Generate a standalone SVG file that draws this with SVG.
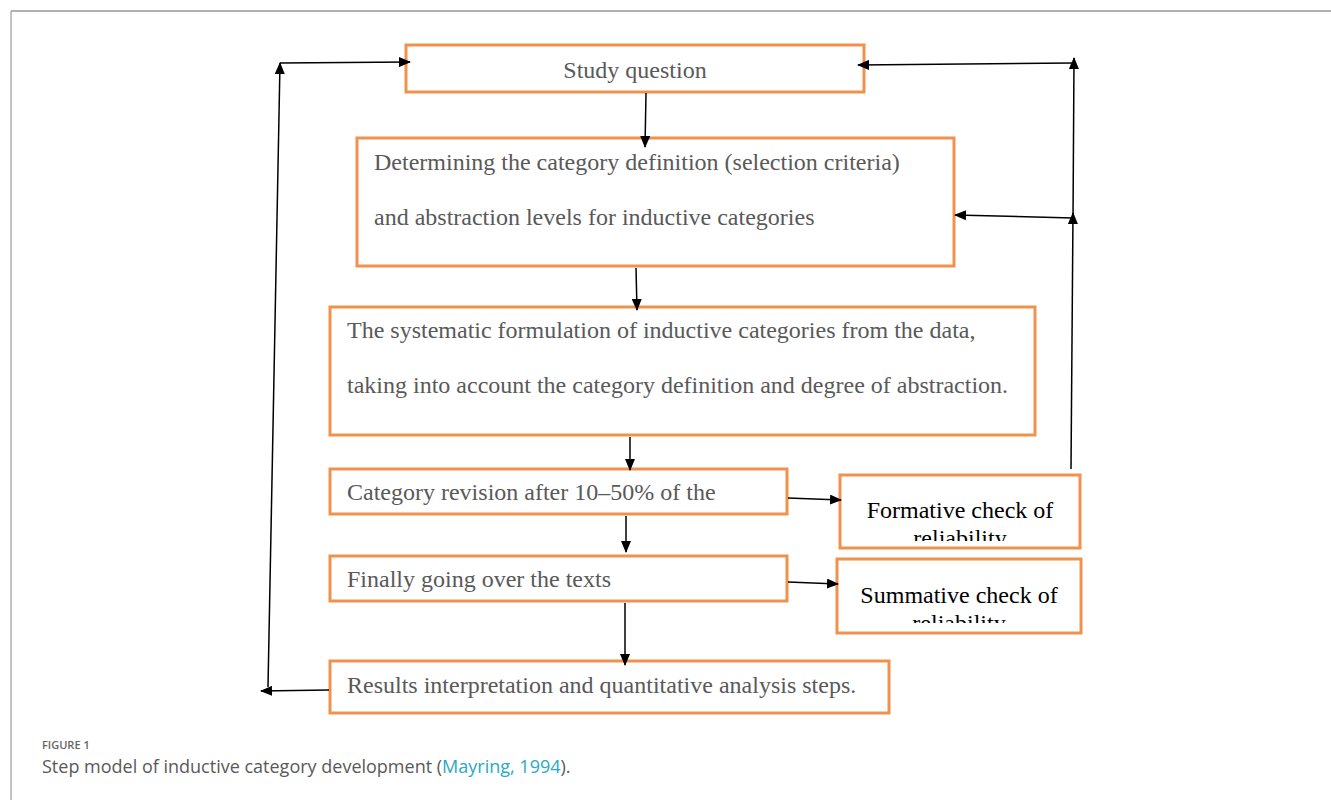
<svg xmlns="http://www.w3.org/2000/svg" width="1331" height="800" viewBox="0 0 1331 800">
<defs>
<style>
.box{fill:#fff;stroke:#F0924C;stroke-width:3}
.t{font-family:"Liberation Serif","Times New Roman",serif;font-size:24px;fill:#595959}
.tb{font-family:"Liberation Serif","Times New Roman",serif;font-size:24px;fill:#000}
.c{stroke:#000;stroke-width:1.5;fill:none;marker-end:url(#ah)}
</style>
<marker id="ah" markerUnits="userSpaceOnUse" markerWidth="12" markerHeight="10" refX="11" refY="5" orient="auto">
<path d="M0,0 L12,5 L0,10 Z" fill="#000"/>
</marker>
<clipPath id="clipF"><rect x="841" y="476" width="238" height="65"/></clipPath>
<clipPath id="clipS"><rect x="838" y="561" width="242" height="62"/></clipPath>
</defs>
<rect x="0" y="0" width="1331" height="800" fill="#fff"/>
<g id="frame">
<line x1="11" y1="11" x2="1331" y2="11" stroke="#b0b0b0" stroke-width="2"/>
<line x1="11" y1="11" x2="11" y2="800" stroke="#b0b0b0" stroke-width="1.5"/>
</g>
<g id="n1">
<rect class="box" x="406" y="45" width="458" height="47"/>
<text class="t" x="635" y="78" text-anchor="middle">Study question</text>
</g>
<g id="n2">
<rect class="box" x="357" y="138" width="597" height="128"/>
<text class="t" x="374" y="170">Determining the category definition (selection criteria)</text>
<text class="t" x="374" y="225">and abstraction levels for inductive categories</text>
</g>
<g id="n3">
<rect class="box" x="330" y="307" width="705" height="128"/>
<text class="t" x="347" y="338">The systematic formulation of inductive categories from the data,</text>
<text class="t" x="347" y="393">taking into account the category definition and degree of abstraction.</text>
</g>
<g id="n4">
<rect class="box" x="330" y="469" width="457" height="45"/>
<text class="t" x="347" y="500">Category revision after 10–50% of the</text>
</g>
<g id="n5">
<rect class="box" x="330" y="556" width="457" height="45"/>
<text class="t" x="347" y="587">Finally going over the texts</text>
</g>
<g id="n6">
<rect class="box" x="330" y="661" width="559" height="52"/>
<text class="t" x="347" y="693">Results interpretation and quantitative analysis steps.</text>
</g>
<g id="n7">
<rect class="box" x="840" y="475" width="240" height="73"/>
<g clip-path="url(#clipF)">
<text class="tb" x="960" y="518" text-anchor="middle">Formative check of</text>
<text class="tb" x="960" y="546" text-anchor="middle">reliability</text>
</g>
</g>
<g id="n8">
<rect class="box" x="837" y="559" width="244" height="74"/>
<g clip-path="url(#clipS)">
<text class="tb" x="959" y="603" text-anchor="middle">Summative check of</text>
<text class="tb" x="959" y="631" text-anchor="middle">reliability</text>
</g>
</g>
<g id="connectors">
<line class="c" x1="646" y1="93" x2="645" y2="147"/>
<line class="c" x1="636" y1="268" x2="637" y2="310"/>
<line class="c" x1="630" y1="437" x2="630" y2="470"/>
<line class="c" x1="626" y1="516" x2="626" y2="552"/>
<line class="c" x1="625" y1="603" x2="625" y2="665"/>
<line class="c" x1="788" y1="498" x2="841" y2="500"/>
<line class="c" x1="788" y1="582" x2="838" y2="584"/>
<line class="c" x1="1071" y1="469" x2="1073" y2="213"/>
<line class="c" x1="1073" y1="218" x2="955" y2="215"/>
<line class="c" x1="1073" y1="218" x2="1074" y2="58"/>
<line class="c" x1="1073" y1="63" x2="858" y2="65"/>
<line class="c" x1="329" y1="690" x2="261" y2="691"/>
<line class="c" x1="268" y1="687" x2="280" y2="63"/>
<line class="c" x1="280" y1="63" x2="410" y2="62"/>
</g>
<g id="caption">
<text x="42" y="749" font-family="'Open Sans',Lato,sans-serif" font-size="11" font-weight="600" fill="#666">FIGURE 1</text>
<text x="42" y="773" font-family="'Open Sans',Lato,sans-serif" font-size="18" fill="#595959">Step model of inductive category development (<tspan fill="#2AA8C4">Mayring, 1994</tspan>).</text>
</g>
</svg>
